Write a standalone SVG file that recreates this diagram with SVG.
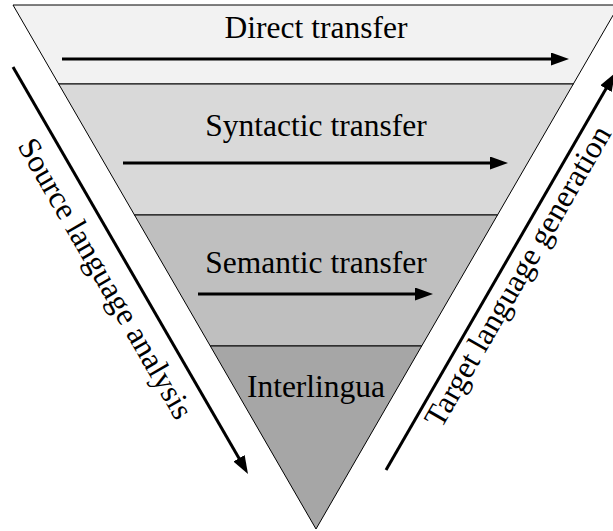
<svg xmlns="http://www.w3.org/2000/svg" width="613" height="531" viewBox="0 0 613 531">
<defs>
<style>
.band{stroke:#000;stroke-width:1;}
.lbl{font-family:"Liberation Serif","Times New Roman",serif;font-size:31.5px;fill:#000;text-anchor:middle;}
.arr{stroke:#000;stroke-width:3;fill:none;marker-end:url(#ah);}
</style>
<marker id="ah" markerUnits="userSpaceOnUse" markerWidth="20" markerHeight="14" refX="2" refY="6.5" orient="auto">
<path d="M0,0 L18,6.5 L0,13 z" fill="#000"/>
</marker>
</defs>
<rect width="613" height="531" fill="#fff"/>
<g id="direct">
<polygon class="band" points="13,5 619,5 573.3,84 58.7,84" fill="#f2f2f2"/>
<text class="lbl" x="316" y="38">Direct transfer</text>
</g>
<g id="syntactic">
<polygon class="band" points="58.7,84 573.3,84 497.5,215 134.5,215" fill="#d9d9d9"/>
<text class="lbl" x="316" y="136">Syntactic transfer</text>
</g>
<g id="semantic">
<polygon class="band" points="134.5,215 497.5,215 421.7,346 210.3,346" fill="#bfbfbf"/>
<text class="lbl" x="316" y="273">Semantic transfer</text>
</g>
<g id="interlingua">
<polygon class="band" points="210.3,346 421.7,346 316,529" fill="#a6a6a6"/>
<text class="lbl" x="316" y="397">Interlingua</text>
</g>
<g id="connectors">
<line class="arr" x1="62" y1="59" x2="553" y2="59"/>
<line class="arr" x1="123" y1="163" x2="492" y2="163"/>
<line class="arr" x1="198" y1="294" x2="417" y2="294"/>
<line class="arr" x1="13" y1="67" x2="240" y2="460.1"/>
<line class="arr" x1="386" y1="470" x2="607" y2="86.9"/>
</g>
<g id="side-labels">
<text class="lbl" x="96.6" y="283.7" transform="rotate(60 96.6 283.7)">Source language analysis</text>
<text class="lbl" x="526.6" y="281.4" transform="rotate(-60 526.6 281.4)">Target language generation</text>
</g>
</svg>
